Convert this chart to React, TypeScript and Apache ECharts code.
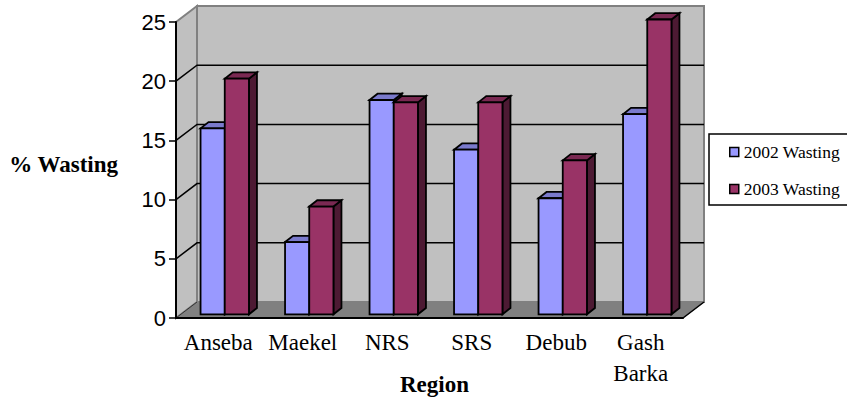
import React, { useEffect, useRef } from "react";
import * as echarts from "echarts";

const categories = ["Anseba", "Maekel", "NRS", "SRS", "Debub", "Gash\nBarka"];
const wasting2002 = [15.7, 6.1, 18.1, 13.9, 9.8, 16.9];
const wasting2003 = [19.9, 9.1, 17.9, 17.9, 13, 24.9];
const gridValues = [5, 10, 15, 20];

const WALL = { dx: 21, dy: -16 };
const BAR = { width: 24.2, dx: 8, dy: -6.3, offX: 6.5, offY: -3.7 };
const SERIF = "'Liberation Serif', serif";

function wallsRenderItem(params: any, api: any) {
  const c = params.coordSys;
  const L = c.x, R = c.x + c.width, T = c.y, B = c.y + c.height;
  const { dx, dy } = WALL;
  const gray = "#808080";
  const children: any[] = [
    { type: "polygon", shape: { points: [[L + dx, T + dy], [R + dx, T + dy], [R + dx, B + dy], [L + dx, B + dy]] }, style: { fill: "#c0c0c0", stroke: gray, lineWidth: 2 } },
    { type: "polygon", shape: { points: [[L, T], [L + dx, T + dy], [L + dx, B + dy], [L, B]] }, style: { fill: "#c0c0c0", stroke: gray, lineWidth: 2 } },
    { type: "polygon", shape: { points: [[L, B], [R, B], [R + dx, B + dy], [L + dx, B + dy]] }, style: { fill: "#808080", stroke: gray, lineWidth: 1 } },
    { type: "line", shape: { x1: R, y1: B, x2: R + dx, y2: B + dy }, style: { stroke: "#000", lineWidth: 1.5 } },
    { type: "line", shape: { x1: L, y1: B, x2: L + dx, y2: B + dy }, style: { stroke: "#333", lineWidth: 1 } },
  ];
  gridValues.forEach((v) => {
    const y = api.coord([0, v])[1];
    children.push({ type: "polyline", shape: { points: [[L, y], [L + dx, y + dy], [R + dx, y + dy]] }, style: { fill: "none", stroke: "#000", lineWidth: 1.5 } });
  });
  return { type: "group", children };
}

function barRenderItem(shift: number, front: string, top: string, side: string) {
  return (_params: any, api: any) => {
    const base = api.coord([api.value(0), 0]);
    const head = api.coord([api.value(0), api.value(1)]);
    const x0 = base[0] + BAR.offX + shift * BAR.width;
    const x1 = x0 + BAR.width;
    const yB = base[1] + BAR.offY;
    const yT = head[1] + BAR.offY;
    const stroke = { stroke: "#000", lineWidth: 1.8, lineJoin: "miter" };
    return {
      type: "group",
      children: [
        { type: "polygon", shape: { points: [[x1, yT], [x1 + BAR.dx, yT + BAR.dy], [x1 + BAR.dx, yB + BAR.dy], [x1, yB]] }, style: { fill: side, ...stroke } },
        { type: "polygon", shape: { points: [[x0, yT], [x0 + BAR.dx, yT + BAR.dy], [x1 + BAR.dx, yT + BAR.dy], [x1, yT]] }, style: { fill: top, ...stroke } },
        { type: "polygon", shape: { points: [[x0, yT], [x1, yT], [x1, yB], [x0, yB]] }, style: { fill: front, ...stroke } },
      ],
    };
  };
}

export default function App() {
  const ref = useRef<HTMLDivElement>(null);
  useEffect(() => {
    document.body.style.margin = "0";
    const chart = echarts.init(ref.current!, undefined, { renderer: "svg" });
    chart.setOption({
      animation: false,
      backgroundColor: "#fff",
      grid: { left: 176, right: 164, top: 22, bottom: 85, outerBoundsMode: "none" },
      legend: {
        orient: "vertical",
        left: 709,
        top: 134,
        padding: [9, 8, 7, 20],
        itemGap: 19,
        itemWidth: 9,
        itemHeight: 9,
        backgroundColor: "#fff",
        borderColor: "#000",
        borderWidth: 1.5,
        borderRadius: 0,
        icon: "rect",
        selectedMode: false,
        textStyle: { fontFamily: SERIF, fontSize: 17.5, color: "#000", padding: [0, 0, 0, 0] },
        data: [
          { name: "2002 Wasting", itemStyle: { color: "#9999ff", borderColor: "#000", borderWidth: 1.5 } },
          { name: "2003 Wasting", itemStyle: { color: "#993366", borderColor: "#000", borderWidth: 1.5 } },
        ],
      },
      xAxis: {
        type: "category",
        data: categories,
        z: 5,
        axisLine: { lineStyle: { color: "#000", width: 2 } },
        axisTick: { length: 7, lineStyle: { color: "#000", width: 1.5 } },
        axisLabel: { interval: 0, fontFamily: SERIF, fontSize: 23, color: "#000", lineHeight: 31, margin: 9 },
        name: "Region",
        nameLocation: "middle",
        nameMoveOverlap: false,
        nameGap: 55,
        nameTextStyle: { fontFamily: SERIF, fontWeight: "bold", fontSize: 23, color: "#000", padding: [0, 0, 0, 10] },
      },
      yAxis: {
        type: "value",
        min: 0,
        max: 25,
        interval: 5,
        z: 5,
        splitLine: { show: false },
        axisLine: { show: true, lineStyle: { color: "#000", width: 2 } },
        axisTick: { show: true, length: 7, lineStyle: { color: "#000", width: 1.5 } },
        axisLabel: { fontFamily: "'Liberation Sans', sans-serif", fontSize: 22, color: "#000", margin: 10 },
        name: "% Wasting",
        nameLocation: "middle",
        nameMoveOverlap: false,
        nameRotate: 0,
        nameGap: 58,
        nameTextStyle: { fontFamily: SERIF, fontWeight: "bold", fontSize: 23, color: "#000", verticalAlign: "bottom", lineHeight: 12 },
      },
      series: [
        { type: "custom", name: "walls", silent: true, data: [[0, 0]], renderItem: wallsRenderItem, encode: { x: 0, y: 1 } },
        { type: "custom", name: "2002 Wasting", silent: true, data: wasting2002.map((v, i) => [i, v]), encode: { x: 0, y: 1 }, renderItem: barRenderItem(-1, "#9999ff", "#7a7acc", "#4d4d80") },
        { type: "custom", name: "2003 Wasting", silent: true, data: wasting2003.map((v, i) => [i, v]), encode: { x: 0, y: 1 }, renderItem: barRenderItem(0, "#993366", "#7a2952", "#4d1a33") },
      ],
    });
    return () => chart.dispose();
  }, []);
  return <div ref={ref} style={{ width: 847, height: 403 }} />;
}
